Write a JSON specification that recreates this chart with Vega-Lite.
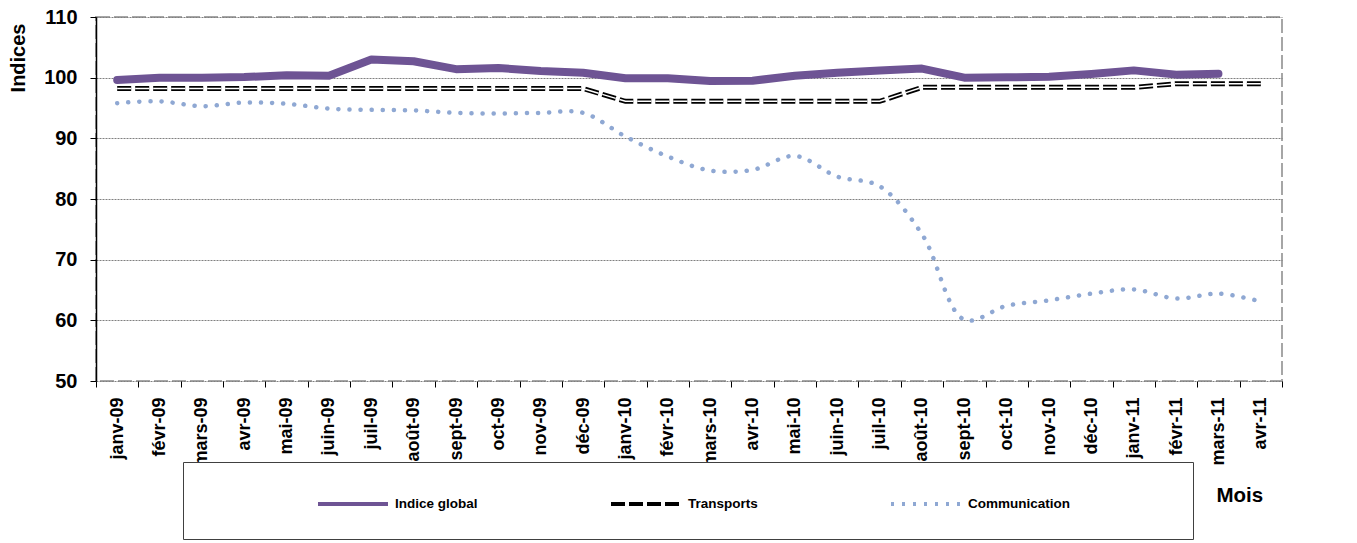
{
  "$schema": "https://vega.github.io/schema/vega-lite/v6.json",
  "width": 1186,
  "height": 364,
  "autosize": {"type": "none"},
  "padding": {"left": 96, "top": 17, "right": 75, "bottom": 162},
  "background": "white",
  "config": {
    "font": "Liberation Sans",
    "view": {"stroke": "#A6A6A6", "strokeWidth": 2, "strokeDash": [14, 4]},
    "axis": {"labelColor": "black", "titleColor": "black", "labelFont": "Liberation Sans", "titleFont": "Liberation Sans"}
  },
  "data": {
    "values": [
      {"month": "janv-09", "series": "Indice global", "value": 99.6},
      {"month": "févr-09", "series": "Indice global", "value": 100.0},
      {"month": "mars-09", "series": "Indice global", "value": 100.0},
      {"month": "avr-09", "series": "Indice global", "value": 100.1},
      {"month": "mai-09", "series": "Indice global", "value": 100.4},
      {"month": "juin-09", "series": "Indice global", "value": 100.3},
      {"month": "juil-09", "series": "Indice global", "value": 103.0},
      {"month": "août-09", "series": "Indice global", "value": 102.7},
      {"month": "sept-09", "series": "Indice global", "value": 101.4},
      {"month": "oct-09", "series": "Indice global", "value": 101.6},
      {"month": "nov-09", "series": "Indice global", "value": 101.1},
      {"month": "déc-09", "series": "Indice global", "value": 100.8},
      {"month": "janv-10", "series": "Indice global", "value": 99.9},
      {"month": "févr-10", "series": "Indice global", "value": 99.9},
      {"month": "mars-10", "series": "Indice global", "value": 99.45},
      {"month": "avr-10", "series": "Indice global", "value": 99.5},
      {"month": "mai-10", "series": "Indice global", "value": 100.3},
      {"month": "juin-10", "series": "Indice global", "value": 100.8},
      {"month": "juil-10", "series": "Indice global", "value": 101.2},
      {"month": "août-10", "series": "Indice global", "value": 101.5},
      {"month": "sept-10", "series": "Indice global", "value": 100.0},
      {"month": "oct-10", "series": "Indice global", "value": 100.05},
      {"month": "nov-10", "series": "Indice global", "value": 100.15},
      {"month": "déc-10", "series": "Indice global", "value": 100.6},
      {"month": "janv-11", "series": "Indice global", "value": 101.2},
      {"month": "févr-11", "series": "Indice global", "value": 100.5},
      {"month": "mars-11", "series": "Indice global", "value": 100.65},
      {"month": "janv-09", "series": "Transports", "value": 98.2},
      {"month": "févr-09", "series": "Transports", "value": 98.2},
      {"month": "mars-09", "series": "Transports", "value": 98.2},
      {"month": "avr-09", "series": "Transports", "value": 98.2},
      {"month": "mai-09", "series": "Transports", "value": 98.2},
      {"month": "juin-09", "series": "Transports", "value": 98.2},
      {"month": "juil-09", "series": "Transports", "value": 98.2},
      {"month": "août-09", "series": "Transports", "value": 98.2},
      {"month": "sept-09", "series": "Transports", "value": 98.2},
      {"month": "oct-09", "series": "Transports", "value": 98.2},
      {"month": "nov-09", "series": "Transports", "value": 98.2},
      {"month": "déc-09", "series": "Transports", "value": 98.2},
      {"month": "janv-10", "series": "Transports", "value": 96.1},
      {"month": "févr-10", "series": "Transports", "value": 96.1},
      {"month": "mars-10", "series": "Transports", "value": 96.1},
      {"month": "avr-10", "series": "Transports", "value": 96.1},
      {"month": "mai-10", "series": "Transports", "value": 96.1},
      {"month": "juin-10", "series": "Transports", "value": 96.1},
      {"month": "juil-10", "series": "Transports", "value": 96.1},
      {"month": "août-10", "series": "Transports", "value": 98.4},
      {"month": "sept-10", "series": "Transports", "value": 98.4},
      {"month": "oct-10", "series": "Transports", "value": 98.4},
      {"month": "nov-10", "series": "Transports", "value": 98.4},
      {"month": "déc-10", "series": "Transports", "value": 98.4},
      {"month": "janv-11", "series": "Transports", "value": 98.4},
      {"month": "févr-11", "series": "Transports", "value": 99.0},
      {"month": "mars-11", "series": "Transports", "value": 99.0},
      {"month": "avr-11", "series": "Transports", "value": 99.0},
      {"month": "janv-09", "series": "Communication", "value": 95.8},
      {"month": "févr-09", "series": "Communication", "value": 96.1},
      {"month": "mars-09", "series": "Communication", "value": 95.3},
      {"month": "avr-09", "series": "Communication", "value": 95.9},
      {"month": "mai-09", "series": "Communication", "value": 95.7},
      {"month": "juin-09", "series": "Communication", "value": 94.9},
      {"month": "juil-09", "series": "Communication", "value": 94.7},
      {"month": "août-09", "series": "Communication", "value": 94.6},
      {"month": "sept-09", "series": "Communication", "value": 94.2},
      {"month": "oct-09", "series": "Communication", "value": 94.1},
      {"month": "nov-09", "series": "Communication", "value": 94.2},
      {"month": "déc-09", "series": "Communication", "value": 94.2},
      {"month": "janv-10", "series": "Communication", "value": 90.3},
      {"month": "févr-10", "series": "Communication", "value": 87.0},
      {"month": "mars-10", "series": "Communication", "value": 84.7},
      {"month": "avr-10", "series": "Communication", "value": 84.8},
      {"month": "mai-10", "series": "Communication", "value": 87.1},
      {"month": "juin-10", "series": "Communication", "value": 83.7},
      {"month": "juil-10", "series": "Communication", "value": 82.1},
      {"month": "août-10", "series": "Communication", "value": 74.2},
      {"month": "sept-10", "series": "Communication", "value": 60.1},
      {"month": "oct-10", "series": "Communication", "value": 62.4},
      {"month": "nov-10", "series": "Communication", "value": 63.3},
      {"month": "déc-10", "series": "Communication", "value": 64.4},
      {"month": "janv-11", "series": "Communication", "value": 65.1},
      {"month": "févr-11", "series": "Communication", "value": 63.6},
      {"month": "mars-11", "series": "Communication", "value": 64.4},
      {"month": "avr-11", "series": "Communication", "value": 63.1}
    ]
  },
  "encoding": {
    "x": {
      "field": "month",
      "type": "ordinal",
      "bandPosition": 0.5,
      "sort": ["janv-09","févr-09","mars-09","avr-09","mai-09","juin-09","juil-09","août-09","sept-09","oct-09","nov-09","déc-09","janv-10","févr-10","mars-10","avr-10","mai-10","juin-10","juil-10","août-10","sept-10","oct-10","nov-10","déc-10","janv-11","févr-11","mars-11","avr-11"],
      "scale": {"type": "band", "paddingInner": 0, "paddingOuter": 0},
      "axis": {
        "title": "Mois",
        "tickBand": "extent",
        "labelAngle": -90,
        "labelFontSize": 18,
        "labelFontWeight": "bold",
        "labelPadding": 10,
        "labelOverlap": false,
        "tickColor": "black",
        "tickSize": 6,
        "domain": false,
        "grid": false,
        "titleX": 1120,
        "titleY": 120,
        "titleAlign": "left",
        "titleBaseline": "alphabetic",
        "titleFontSize": 20.5,
        "titleFontWeight": "bold"
      }
    },
    "y": {
      "field": "value",
      "type": "quantitative",
      "scale": {"domain": [50, 110], "nice": false, "zero": false},
      "axis": {
        "values": [50, 60, 70, 80, 90, 100, 110],
        "title": "Indices",
        "titleFontSize": 20,
        "titleFontWeight": "bold",
        "titleAngle": -90,
        "titleAlign": "right",
        "titleBaseline": "middle",
        "titleX": -78,
        "titleY": 6,
        "labelFontSize": 20,
        "labelFontWeight": "bold",
        "labelPadding": 13,
        "tickSize": 6,
        "tickColor": "black",
        "domainColor": "black",
        "domainWidth": 1.5,
        "grid": true,
        "gridColor": "#808080",
        "gridDash": [2, 1],
        "gridWidth": 1
      }
    }
  },
  "layer": [
    {
      "mark": {"type": "line", "strokeCap": "butt"},
      "encoding": {
        "color": {
          "field": "series",
          "type": "nominal",
          "scale": {"domain": ["Indice global", "Transports", "Communication"], "range": ["#6E5494", "#000000", "#8FA8D3"]},
          "legend": {
            "title": " ", "titleOrient": "right", "titlePadding": 118, "titleFontSize": 88,
            "orient": "none", "legendX": 87, "legendY": 445, "direction": "horizontal", "columns": 3,
            "fillColor": "white", "strokeColor": "#404040", "padding": 5,
            "symbolType": "stroke", "symbolSize": 4900, "symbolStrokeWidth": 4, "symbolOffset": 128,
            "labelOffset": 5, "labelFontSize": 13.5, "labelFontWeight": "bold", "labelColor": "black", "labelFont": "Liberation Sans",
            "columnPadding": 3, "labelLimit": 300
          }
        },
        "strokeDash": {
          "field": "series",
          "type": "nominal",
          "scale": {"domain": ["Indice global", "Transports", "Communication"], "range": [[1, 0], [14, 4], [3, 8]]},
          "legend": {
            "title": " ", "titleOrient": "right", "titlePadding": 118, "titleFontSize": 88,
            "orient": "none", "legendX": 87, "legendY": 445, "direction": "horizontal", "columns": 3,
            "fillColor": "white", "strokeColor": "#404040", "padding": 5,
            "symbolType": "stroke", "symbolSize": 4900, "symbolStrokeWidth": 4, "symbolOffset": 128,
            "labelOffset": 5, "labelFontSize": 13.5, "labelFontWeight": "bold", "labelColor": "black", "labelFont": "Liberation Sans",
            "columnPadding": 3, "labelLimit": 300
          }
        },
        "strokeWidth": {"condition": {"test": "datum.series === 'Transports'", "value": 5}, "value": 0}
      }
    },
    {
      "transform": [{"filter": "datum.series === 'Transports'"}],
      "mark": {"type": "line", "color": "white", "strokeWidth": 1.5, "strokeDash": [14, 4]},
      "encoding": {}
    },
    {
      "transform": [{"filter": "datum.series === 'Communication'"}],
      "mark": {"type": "line", "color": "#8FA8D3", "strokeWidth": 4.5, "strokeDash": [0.1, 11], "strokeCap": "round", "interpolate": "catmull-rom"},
      "encoding": {}
    },
    {
      "transform": [{"filter": "datum.series === 'Indice global'"}],
      "mark": {"type": "line", "color": "#6E5494", "strokeWidth": 8, "strokeCap": "round", "strokeJoin": "round"},
      "encoding": {}
    }
  ]
}
